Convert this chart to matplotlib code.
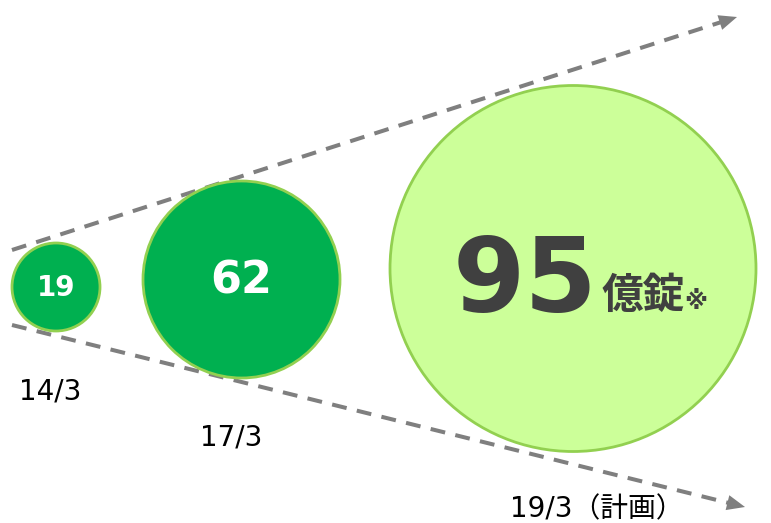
import numpy as np
import matplotlib.pyplot as plt
from matplotlib.patches import Circle

# tablet volume (100 million tablets) by fiscal period
periods = ['14/3', '17/3', '19/3（計画）']
volumes = [19, 62, 95]
unit = '億錠'
note = '※'

# layout in pixel space (origin top-left)
centers = [(56, 287), (241.5, 279.5), (573, 268.5)]
radii = [44, 98.5, 183]
fills = ['#00B050', '#00B050', '#CCFF99']
label_pos = [(50, 400), (231, 445), (510, 517)]
label_ha = ['center', 'center', 'left']
value_size = [20, 32, 75]

gray = '#7F7F7F'
edge = '#92D050'
dark = '#404040'

fig = plt.figure(figsize=(7.71, 5.23), dpi=100)
ax = fig.add_axes([0, 0, 1, 1])
ax.set_xlim(0, 771)
ax.set_ylim(523, 0)
ax.set_aspect('equal')
ax.axis('off')

# widening dashed guides
for start, tip in [((12, 250), (737, 17)), ((12, 325), (745, 507))]:
    start = np.array(start, float)
    tip = np.array(tip, float)
    d = (tip - start) / np.linalg.norm(tip - start)
    end = tip - d * 14
    ax.plot([start[0], end[0]], [start[1], end[1]], color=gray, lw=2.9,
            linestyle=(0, (3.7, 2.6)), solid_capstyle='butt', zorder=1)
    ax.annotate('', xy=tip, xytext=tip - d * 18,
                arrowprops=dict(arrowstyle='-|>,head_length=1.3,head_width=0.55',
                                color=gray, lw=0, shrinkA=0, shrinkB=0), zorder=1)

for (cx, cy), r, fc in zip(centers, radii, fills):
    ax.add_patch(Circle((cx, cy), r, facecolor=fc, edgecolor=edge, lw=2, zorder=2))

# values inside the circles
for i in range(2):
    cx, cy = centers[i]
    ax.text(cx, cy + 1, str(volumes[i]), ha='center', va='center', color='white',
            fontsize=value_size[i], fontweight='bold', family='DejaVu Sans', zorder=3)

ax.text(453, 312, str(volumes[2]), ha='left', va='baseline', color=dark,
        fontsize=value_size[2], fontweight='bold', family='DejaVu Sans', zorder=3)
ax.text(601, 308, unit, ha='left', va='baseline', color=dark,
        fontsize=30, fontweight='bold', family='Noto Sans CJK JP', zorder=3)
ax.text(684, 309, note, ha='left', va='baseline', color=dark,
        fontsize=17, fontweight='bold', family=['DejaVu Sans', 'Noto Sans CJK JP'], zorder=3)

for lab, (x, y), ha in zip(periods, label_pos, label_ha):
    ax.text(x, y, lab, ha=ha, va='baseline', color='black', fontsize=20,
            family=['DejaVu Sans', 'Noto Sans CJK JP'], zorder=3)

fig.savefig('out.png', dpi=100)
